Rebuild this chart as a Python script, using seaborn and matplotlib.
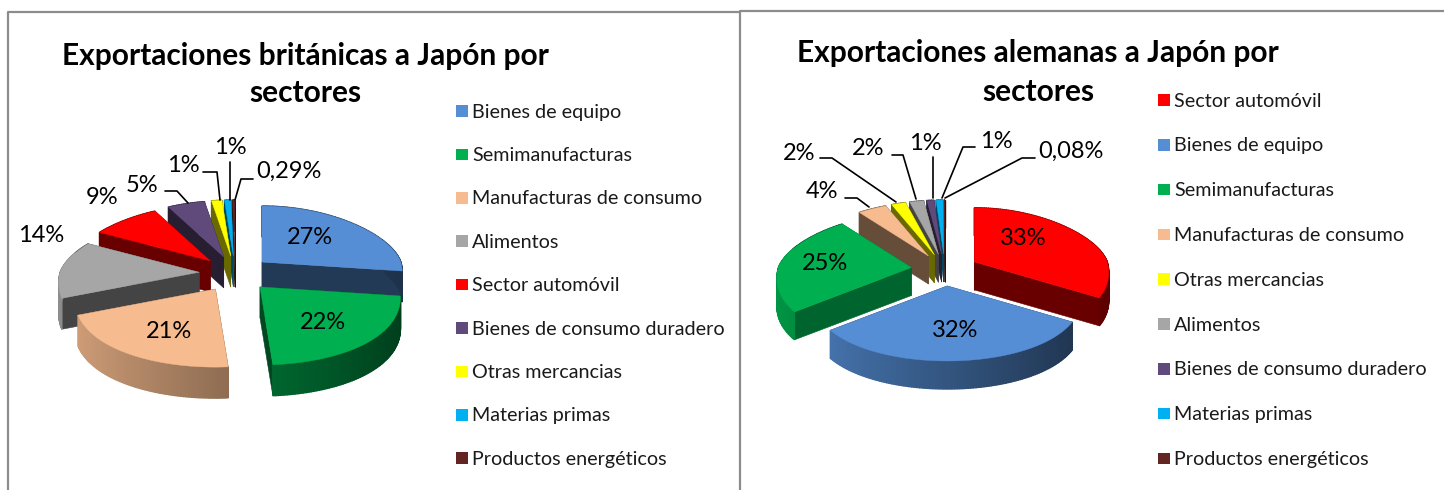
import numpy as np
import pandas as pd
import matplotlib
matplotlib.use("Agg")
import matplotlib.pyplot as plt
from matplotlib.colors import to_rgb
from matplotlib.patches import Polygon
import seaborn as sns

sns.set_theme(style="white")
plt.rcParams["font.family"] = ["Lato", "DejaVu Sans"]

# data
uk_sectors = ["Bienes de equipo", "Semimanufacturas", "Manufacturas de consumo", "Alimentos",
              "Sector automóvil", "Bienes de consumo duradero", "Otras mercancias",
              "Materias primas", "Productos energéticos"]
uk_values = [27, 22, 21, 14, 9, 5, 1.4, 0.9, 0.29]
uk_labels = ["27%", "22%", "21%", "14%", "9%", "5%", "1%", "1%", "0,29%"]

de_sectors = ["Sector automóvil", "Bienes de equipo", "Semimanufacturas", "Manufacturas de consumo",
              "Otras mercancias", "Alimentos", "Bienes de consumo duradero",
              "Materias primas", "Productos energéticos"]
de_values = [33, 32, 25, 4, 2, 2, 1, 1, 0.08]
de_labels = ["33%", "32%", "25%", "4%", "2%", "2%", "1%", "1%", "0,08%"]

sector_colors = {
    "Bienes de equipo": "#558ED5",
    "Semimanufacturas": "#00B050",
    "Manufacturas de consumo": "#F6BB8E",
    "Alimentos": "#A6A6A6",
    "Sector automóvil": "#FF0000",
    "Bienes de consumo duradero": "#604A7B",
    "Otras mercancias": "#FFFF00",
    "Materias primas": "#00B0F0",
    "Productos energéticos": "#632523",
}

# layout, in pixels of the output image
uk_geom = dict(cx=235, cy=274, rx=139, rxk=20, back=56, front=78, depth=31, ex=36, ey=18, wall={})
de_geom = dict(cx=945, cy=270, rx=133, rxk=20, back=54, front=75, depth=28, ex=34, ey=16,
               wall={"Semimanufacturas": 0.57})
uk_label_xy = [(310, 236), (323, 321), (169, 330), (41, 234), (102, 196), (142, 184), (183, 164), (230, 146), (289, 170)]
de_label_xy = [(1023, 237), (955, 329), (825, 262), (822, 190), (799, 152), (868, 147), (925, 142), (996, 140), (1071, 150)]
uk_leaders = [[(165, 191), (177, 191), (188, 203)],
              [(203, 172), (217, 172), (220, 200)],
              [(230, 162), (230, 200)],
              [(253, 179), (241, 179), (235, 200)]]
de_leaders = [[(845, 198), (857, 198), (869, 207)],
              [(820, 158), (832, 158), (896, 202)],
              [(892, 155), (903, 155), (916, 199)],
              [(933, 157), (933, 198)],
              [(975, 147), (963, 147), (942, 198)],
              [(1035, 158), (1022, 158), (945, 198)]]


def rim(theta, g):
    """Offset of the slice rim from its apex, with the front nearer than the back"""
    rx = g["rx"] - g["rxk"] * np.cos(theta)
    ry = np.where(np.cos(theta) > 0, g["back"], g["front"])
    return rx * np.sin(theta), -ry * np.cos(theta)


def shade(color, f):
    return tuple(c * f for c in to_rgb(color))


def draw_pie(ax, sectors, values, g):
    edges = np.deg2rad(np.cumsum([0] + values) / sum(values) * 360)
    mids = (edges[:-1] + edges[1:]) / 2
    # paint from the back of the pie to the front
    for i in np.argsort(-np.cos(mids)):
        color = sector_colors[sectors[i]]
        ax_x = g["cx"] + g["ex"] * np.sin(mids[i])
        ax_y = g["cy"] - g["ey"] * np.cos(mids[i])
        t = np.linspace(edges[i], edges[i + 1], max(4, int(np.degrees(edges[i + 1] - edges[i]))))
        dx, dy = rim(t, g)
        x, y = ax_x + dx, ax_y + dy
        d = g["depth"]

        for k in [0, -1]:
            quad = [(ax_x, ax_y), (x[k], y[k]), (x[k], y[k] + d), (ax_x, ax_y + d)]
            wall = shade(color, g["wall"].get(sectors[i], 0.41))
            ax.add_patch(Polygon(quad, facecolor=wall, edgecolor=wall, lw=0.4))
        for k in range(len(t) - 1):
            if np.cos((t[k] + t[k + 1]) / 2) > 0.35:
                f = 0.41
            else:
                f = 0.6 - 0.25 * np.sin(t[k])
            wall = shade(color, f)
            quad = [(x[k], y[k]), (x[k + 1], y[k + 1]), (x[k + 1], y[k + 1] + d), (x[k], y[k] + d)]
            ax.add_patch(Polygon(quad, facecolor=wall, edgecolor=wall, lw=1.0))
        top = [(ax_x, ax_y)] + list(zip(x, y))
        ax.add_patch(Polygon(top, facecolor=color, edgecolor=color, lw=0.3))


def draw_legend(ax, sectors, x, y0, step):
    legend_df = pd.DataFrame({"sector": sectors,
                              "x": [x] * len(sectors),
                              "y": [y0 + step * i for i in range(len(sectors))]})
    sns.scatterplot(data=legend_df, x="x", y="y", hue="sector", palette=sector_colors,
                    marker="s", s=72, linewidth=0, legend=False, ax=ax)
    for row in legend_df.itertuples():
        ax.text(row.x + 10, row.y + 1, row.sector, fontsize=14.2, color="#1a1a1a", va="center", ha="left")


fig = plt.figure(figsize=(14.44, 4.9), dpi=100)
ax = fig.add_axes([0, 0, 1, 1])
ax.set_xlim(0, 1444)
ax.set_ylim(490, 0)
ax.axis("off")

# chart frames
frame_color = "#8c8c8c"
ax.plot([8, 8, 740, 740], [490, 12, 12, 490], color=frame_color, lw=1.6)
ax.plot([740, 1444], [11, 11], color=frame_color, lw=1.6)

draw_pie(ax, uk_sectors, uk_values, uk_geom)
draw_pie(ax, de_sectors, de_values, de_geom)

for pts in uk_leaders + de_leaders:
    ax.plot([p[0] for p in pts], [p[1] for p in pts], color="black", lw=1.2)

for (x, y), txt in zip(uk_label_xy + de_label_xy, uk_labels + de_labels):
    ax.text(x, y + 1.5, txt, fontsize=17, color="black", ha="center", va="center")

ax.text(305, 56, "Exportaciones británicas a Japón por", fontsize=21.5, fontweight="bold", color="black", ha="center", va="center")
ax.text(305, 93, "sectores", fontsize=21.5, fontweight="bold", color="black", ha="center", va="center")
ax.text(1038, 53, "Exportaciones alemanas a Japón por", fontsize=21.5, fontweight="bold", color="black", ha="center", va="center")
ax.text(1038, 92, "sectores", fontsize=21.5, fontweight="bold", color="black", ha="center", va="center")

draw_legend(ax, uk_sectors, 462, 111, 43.4)
draw_legend(ax, de_sectors, 1164, 100, 44.8)

fig.savefig("out.png", dpi=100, facecolor="white")
